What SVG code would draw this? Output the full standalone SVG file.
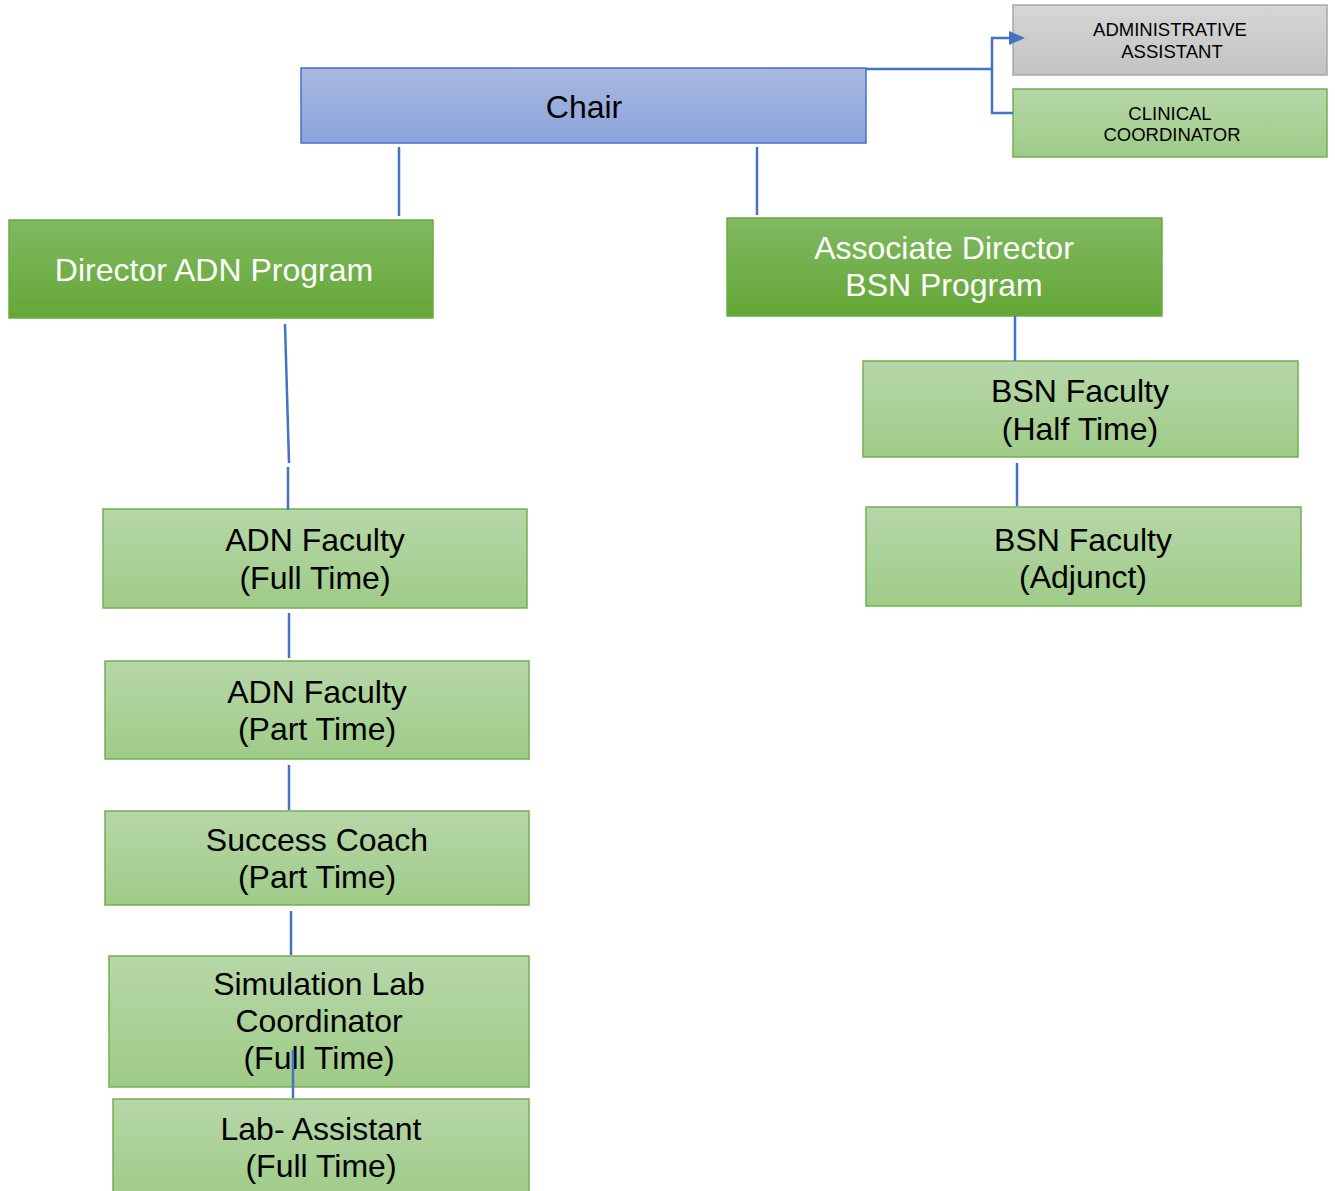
<svg xmlns="http://www.w3.org/2000/svg" width="1335" height="1191" viewBox="0 0 1335 1191">
<defs>
<linearGradient id="gBlue" x1="0" y1="0" x2="0" y2="1"><stop offset="0" stop-color="#a9b9e2"/><stop offset="1" stop-color="#8aa3d9"/></linearGradient>
<linearGradient id="gDark" x1="0" y1="0" x2="0" y2="1"><stop offset="0" stop-color="#80b962"/><stop offset="1" stop-color="#65a736"/></linearGradient>
<linearGradient id="gLight" x1="0" y1="0" x2="0" y2="1"><stop offset="0" stop-color="#b6d7a8"/><stop offset="1" stop-color="#9fcb88"/></linearGradient>
<linearGradient id="gGray" x1="0" y1="0" x2="0" y2="1"><stop offset="0" stop-color="#d6d6d6"/><stop offset="1" stop-color="#c3c3c3"/></linearGradient>
<marker id="arr" markerWidth="16" markerHeight="16" refX="0" refY="8" orient="auto" markerUnits="userSpaceOnUse" viewBox="0 0 16 16"><path d="M0,1 L16,8 L0,15 z" fill="#4472c4"/></marker>
</defs>
<style>
text{font-family:"Liberation Sans",Arial,sans-serif;text-anchor:middle}
.big{font-size:32px;fill:#000}
.wht{font-size:32px;fill:#fff}
.sm{font-size:18.5px;fill:#000}
.blue{fill:url(#gBlue);stroke:#4472c4;stroke-width:1.5}
.dark{fill:url(#gDark);stroke:#6aac44;stroke-width:1.5}
.light{fill:url(#gLight);stroke:#72b04e;stroke-width:1.5}
.gray{fill:url(#gGray);stroke:#a8a8a8;stroke-width:1.5}
.ln{stroke:#4472c4;stroke-width:2.5;fill:none}
</style>
<rect width="1335" height="1191" fill="#fff"/>
<g id="admin-assistant"><rect class="gray" x="1013" y="5" width="314" height="70"/><text class="sm" x="1170" y="36">ADMINISTRATIVE</text><text class="sm" x="1172" y="58">ASSISTANT</text></g>
<g id="clinical-coordinator"><rect class="light" x="1013" y="89" width="314" height="68"/><text class="sm" x="1170" y="120">CLINICAL</text><text class="sm" x="1172" y="141">COORDINATOR</text></g>
<g id="chair"><rect class="blue" x="301" y="68" width="565" height="75"/><text class="big" x="584" y="118">Chair</text></g>
<g id="director-adn"><rect class="dark" x="9" y="220" width="424" height="98"/><text class="wht" x="214" y="281">Director ADN Program</text></g>
<g id="associate-director-bsn"><rect class="dark" x="727" y="218" width="435" height="98"/><text class="wht" x="944" y="259">Associate Director</text><text class="wht" x="944" y="296">BSN Program</text></g>
<g id="bsn-half"><rect class="light" x="863" y="361" width="435" height="96"/><text class="big" x="1080" y="402">BSN Faculty</text><text class="big" x="1080" y="440">(Half Time)</text></g>
<g id="bsn-adjunct"><rect class="light" x="866" y="507" width="435" height="99"/><text class="big" x="1083" y="551">BSN Faculty</text><text class="big" x="1083" y="588">(Adjunct)</text></g>
<g id="adn-full"><rect class="light" x="103" y="509" width="424" height="99"/><text class="big" x="315" y="551">ADN Faculty</text><text class="big" x="315" y="589">(Full Time)</text></g>
<g id="adn-part"><rect class="light" x="105" y="661" width="424" height="98"/><text class="big" x="317" y="703">ADN Faculty</text><text class="big" x="317" y="740">(Part Time)</text></g>
<g id="success-coach"><rect class="light" x="105" y="811" width="424" height="94"/><text class="big" x="317" y="851">Success Coach</text><text class="big" x="317" y="888">(Part Time)</text></g>
<g id="sim-lab"><rect class="light" x="109" y="956" width="420" height="131"/><text class="big" x="319" y="995">Simulation Lab</text><text class="big" x="319" y="1032">Coordinator</text><text class="big" x="319" y="1069">(Full Time)</text></g>
<g id="lab-assistant"><rect class="light" x="113" y="1099" width="416" height="100"/><text class="big" x="321" y="1140">Lab- Assistant</text><text class="big" x="321" y="1177">(Full Time)</text></g>
<g id="connectors">
<path class="ln" d="M866,69 H992 V113 H1013"/>
<path class="ln" d="M992,69 V38 H1009" marker-end="url(#arr)"/>
<line class="ln" x1="399" y1="147" x2="399" y2="216"/>
<line class="ln" x1="757" y1="147" x2="757" y2="215"/>
<line class="ln" x1="1015" y1="316" x2="1015" y2="361"/>
<line class="ln" x1="1017" y1="463" x2="1017" y2="506"/>
<line class="ln" x1="285" y1="324" x2="289" y2="463"/>
<line class="ln" x1="288" y1="467" x2="288" y2="510"/>
<line class="ln" x1="289" y1="613" x2="289" y2="658"/>
<line class="ln" x1="289" y1="765" x2="289" y2="810"/>
<line class="ln" x1="291" y1="911" x2="291" y2="955"/>
<line class="ln" x1="293" y1="1050" x2="293" y2="1098"/>
</g>
</svg>
